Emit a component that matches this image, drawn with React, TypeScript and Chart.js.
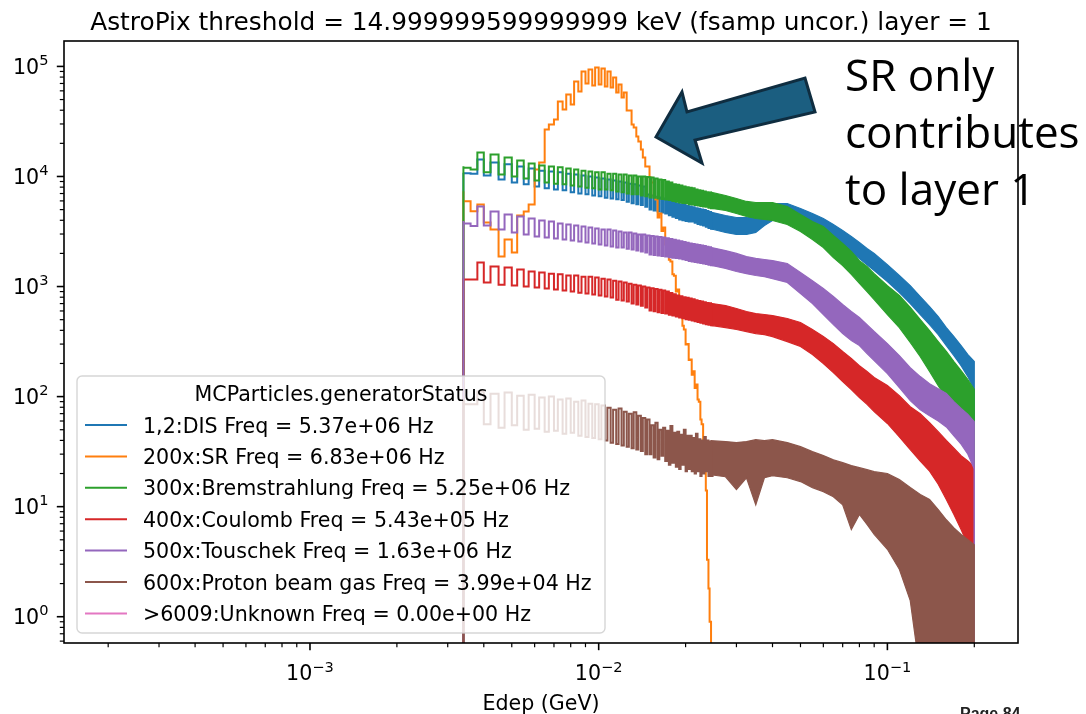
import React, { useEffect, useRef } from "react";
import { Chart, registerables } from "chart.js";

Chart.register(...registerables);

// ---------- axes ----------
const X_MIN = 1.406e-4;
const X_MAX = 0.2834;
const Y_MIN = 0.577;
const Y_MAX = 1.702e5;
const FLOOR = 0.01; // "zero" for the step outline (below the axis)

const X_MAJOR = [0.001, 0.01, 0.1];
const X_EXP = ["\u22123", "\u22122", "\u22121"];
const Y_MAJOR = [1, 10, 100, 1000, 10000, 100000];
const Y_EXP = ["0", "1", "2", "3", "4", "5"];

const TITLE = "AstroPix threshold = 14.999999599999999 keV (fsamp uncor.) layer = 1";
const X_LABEL = "Edep (GeV)";
const LEGEND_TITLE = "MCParticles.generatorStatus";
const LABELS = [
  "1,2:DIS Freq = 5.37e+06 Hz",
  "200x:SR Freq = 6.83e+06 Hz",
  "300x:Bremstrahlung Freq = 5.25e+06 Hz",
  "400x:Coulomb Freq = 5.43e+05 Hz",
  "500x:Touschek Freq = 1.63e+06 Hz",
  "600x:Proton beam gas Freq = 3.99e+04 Hz",
  ">6009:Unknown Freq = 0.00e+00 Hz",
];
const COLORS = ["#1f77b4", "#ff7f0e", "#2ca02c", "#d62728", "#9467bd", "#8c564b", "#e377c2"];

// ---------- bin edges (GeV) ----------
const BASE_EDGES = [0.0034, 0.0036, 0.0038];
const TOOTH_START = [
  0.004, 0.0045, 0.005, 0.0055, 0.006, 0.0065, 0.007, 0.0075, 0.008, 0.0085, 0.009, 0.0095,
  0.01, 0.0105, 0.011, 0.0115, 0.012, 0.0125, 0.013, 0.0135, 0.014, 0.0145,
  0.015, 0.0155, 0.016, 0.0165, 0.017, 0.0175, 0.018, 0.0185, 0.019, 0.0195,
  0.02, 0.0205, 0.021, 0.0215, 0.022, 0.0225, 0.023, 0.0235, 0.024, 0.0245,
];
const TOOTH_END = [
  0.00422, 0.00472, 0.00522, 0.00572, 0.00622, 0.00672, 0.00722, 0.00772, 0.00822, 0.00872, 0.00922, 0.00972,
  0.01022, 0.01072, 0.01122, 0.01172, 0.01222, 0.01272, 0.01322, 0.01372, 0.01422, 0.01472,
  0.01522, 0.01572, 0.01622, 0.01672, 0.01722, 0.01772, 0.01822, 0.01872, 0.01922, 0.01972,
  0.02022, 0.02072, 0.02122, 0.02172, 0.02222, 0.02272, 0.02322, 0.02372, 0.02422, 0.02472,
];
const COMB_END = 0.025;
const BAND_X = [0.0244, 0.0275, 0.03, 0.0325, 0.035, 0.0375, 0.04, 0.045, 0.05, 0.055, 0.06, 0.065, 0.07, 0.075, 0.08, 0.085, 0.09, 0.1, 0.11, 0.12, 0.13, 0.14, 0.15, 0.16, 0.17, 0.18, 0.19, 0.2];

// ---------- 1,2: DIS ----------
const DIS_BASE = [10800, 10700, 10600];
const DIS_HI = [
  14300, 13400, 12900, 12300, 11800, 11300, 11100, 10900, 10600, 10400, 10200, 10000, 9800, 9600, 9400, 9200, 9000, 8800, 8600, 8500, 8300, 8100,
  6860, 6700, 6550, 6450, 6310, 6150, 6000, 5850, 5680, 5600, 5500, 5400, 5340, 5250, 5150, 5100, 5010, 4950, 4850, 4750,
];
const DIS_LO = [
  10200, 9400, 8800, 8500, 8100, 7800, 7600, 7500, 7200, 7000, 6900, 6700, 6600, 6400, 6300, 6200, 6100, 5900, 5700, 5600, 5500, 5300,
  5010, 4900, 4800, 4700, 4610, 4450, 4300, 4200, 4070, 4000, 3950, 3900, 3900, 3800, 3700, 3650, 3580, 3500, 3400, 3350,
];
const DIS_UP = [4750, 4420, 4240, 4240, 4510, 5120, 5680, 5680, 5120, 4610, 4150, 3660, 3230, 2850, 2510, 2220, 2000, 1580, 1260, 1020, 811, 658, 534, 424, 351, 291, 241, 208];
const DIS_DN = [3350, 3100, 2970, 2970, 3100, 3580, 3980, 4070, 3900, 3440, 3100, 2620, 2310, 2040, 1800, 1580, 1400, 1110, 882, 701, 557, 451, 366, 291, 236, 191, 152, 116];

// ---------- 200x: SR ----------
const SR_BASE = [7350, 5960, 4840];
const SR_HI = [
  5570, 3300, 2680, 4420, 5570, 13400, 29700, 48100, 55700, 73100, 90100, 93900, 97900, 95900, 90100, 79400, 68600, 58000, 39800, 27900, 20800, 14900,
  12300, 8800, 6180, 4600, 3440, 2400, 1690, 1250, 939, 620, 407, 300, 217, 170, 129, 90, 56, 22, 3.3, 0.9,
];
const SR_LO = [
  3820, 1870, 2040, 4810, 11600, 26700, 33000, 40700, 45100, 59300, 70000, 67200, 68600, 65800, 64400, 58000, 52300, 39800, 29700, 23100, 17600, 12300,
  9790, 6500, 4240, 3200, 2410, 1750, 1290, 900, 618, 440, 297, 215, 158, 120, 94, 62, 37, 14, 1.8, 0.3,
];

// ---------- 300x: Bremsstrahlung ----------
const BREM_BASE = [12400, 12000, 11600];
const BREM_HI = [
  16500, 15800, 14900, 14000, 13100, 12600, 12300, 12100, 11800, 11600, 11300, 11100, 10900, 10900, 10600, 10600, 10400, 10400, 10200, 10200, 10000, 10000,
  9900, 9800, 9600, 9400, 9300, 9000, 8800, 8500, 8400, 8300, 8100, 8000, 7900, 7800, 7600, 7500, 7400, 7300, 7200, 7150,
];
const BREM_LO = [
  10900, 10400, 10000, 9600, 9200, 8800, 8600, 8500, 8300, 8100, 7900, 7800, 7600, 7600, 7500, 7300, 7200, 7000, 6900, 6900, 6700, 6600,
  6450, 6400, 6300, 6250, 6180, 6100, 6000, 5900, 5800, 5750, 5700, 5600, 5570, 5500, 5450, 5400, 5340, 5300, 5200, 5150,
];
const BREM_UP = [7200, 6720, 6310, 5930, 5800, 5800, 5800, 5340, 4510, 3900, 3510, 2910, 2460, 2080, 1720, 1520, 1310, 1020, 828, 645, 501, 398, 316, 257, 208, 172, 143, 116];
const BREM_DN = [5150, 4910, 4610, 4330, 4150, 4070, 3980, 3660, 3160, 2680, 2260, 1830, 1550, 1290, 1070, 901, 762, 557, 424, 310, 231, 169, 126, 98, 79, 64, 52, 37];

// ---------- 400x: Coulomb ----------
const COUL_BASE = [1160, 1160, 1160];
const COUL_HI = [
  1650, 1520, 1490, 1430, 1370, 1340, 1310, 1290, 1260, 1260, 1230, 1230, 1210, 1180, 1160, 1130, 1110, 1090, 1060, 1040, 1020, 1000,
  980, 965, 950, 935, 920, 900, 875, 850, 830, 815, 800, 790, 780, 765, 750, 740, 730, 720, 710, 705,
];
const COUL_LO = [
  1090, 1040, 1020, 1000, 980, 960, 940, 920, 900, 880, 865, 845, 830, 810, 795, 760, 745, 730, 700, 685, 670, 645,
  605, 595, 585, 575, 568, 555, 545, 535, 523, 515, 505, 498, 491, 483, 475, 468, 461, 455, 449, 444,
];
const COUL_UP = [705, 672, 631, 593, 568, 557, 545, 512, 471, 407, 351, 303, 257, 222, 191, 169, 149, 126, 102, 81, 70, 58, 48, 40, 34, 29, 26, 23];
const COUL_DN = [444, 424, 407, 390, 374, 366, 351, 316, 285, 241, 200, 165, 137, 116, 98, 85, 73, 57, 43, 33, 26, 21, 16, 11.6, 8.5, 6.2, 4.5, 3.3];

// ---------- 500x: Touschek ----------
const TOUS_BASE = [3930, 3740, 3550];
const TOUS_HI = [
  5340, 4810, 4520, 4330, 4150, 3980, 3900, 3730, 3660, 3580, 3510, 3430, 3360, 3300, 3300, 3230, 3160, 3090, 3090, 3030, 2970, 2970,
  2910, 2880, 2850, 2820, 2790, 2750, 2700, 2660, 2620, 2580, 2540, 2500, 2460, 2440, 2410, 2380, 2360, 2330, 2300, 2270,
];
const TOUS_LO = [
  3580, 3300, 3090, 2970, 2850, 2790, 2730, 2670, 2620, 2560, 2510, 2460, 2410, 2360, 2310, 2260, 2260, 2210, 2170, 2120, 2080, 2040,
  1950, 1930, 1910, 1890, 1870, 1850, 1830, 1815, 1800, 1770, 1740, 1710, 1690, 1670, 1650, 1635, 1620, 1600, 1580, 1560,
];
const TOUS_UP = [2270, 2120, 2000, 1870, 1800, 1760, 1720, 1620, 1340, 1130, 959, 811, 686, 593, 523, 451, 390, 303, 236, 183, 152, 131, 118, 107, 90, 78, 69, 59];
const TOUS_DN = [1560, 1460, 1370, 1310, 1260, 1230, 1180, 1090, 864, 701, 557, 451, 374, 323, 291, 246, 212, 162, 121, 92, 76, 67, 60, 53, 44, 37, 30, 22];

// ---------- 600x: Proton beam gas ----------
const PBG_BASE = [94, 85, 85];
const PBG_HI = [
  111, 106, 109, 102, 104, 98, 100, 94, 96, 90, 92, 86, 85, 83, 79, 76, 78, 73, 70, 72, 67, 64,
  62, 55, 58, 50, 52, 49, 54, 47, 48, 45, 50, 44, 44, 42, 46, 41, 40, 43, 40, 39,
];
const PBG_LO = [
  56, 52, 55, 50, 51, 48, 49, 46, 47, 44, 43, 42, 41, 40, 38, 37, 36, 35, 34, 33, 32, 30,
  30, 28, 27, 29, 26, 24, 25, 23, 22, 24, 21, 22, 21, 20, 21, 19, 20, 21, 19, 19,
];
const PBG_UP = [39.8, 39.0, 38.2, 39.0, 40.6, 39.8, 40.6, 38.2, 35.1, 31.6, 29.1, 26.7, 25.1, 23.6, 22.6, 21.7, 20.8, 20.0, 17.6, 14.9, 12.9, 11.6, 9.4, 7.6, 6.4, 5.6, 5.0, 4.5];
const PBG_DN = [19.5, 18.7, 14.3, 18.3, 10.4, 18.3, 19.1, 18.3, 16.9, 14.9, 13.7, 12.3, 10.4, 6.2, 8.5, 6.9, 5.6, 4.1, 2.7, 1.4, 0.3, 0.3, 0.3, 0.3, 0.3, 0.3, 0.3, 0.3];

type Pt = { x: number; y: number };

function combPoints(base: number[], hi: number[], lo: number[]): Pt[] {
  const pts: Pt[] = [{ x: BASE_EDGES[0], y: FLOOR }];
  BASE_EDGES.forEach((e, i) => pts.push({ x: e, y: base[i] }));
  TOOTH_START.forEach((s, k) => {
    pts.push({ x: s, y: hi[k] });
    pts.push({ x: TOOTH_END[k], y: lo[k] });
  });
  pts.push({ x: COMB_END, y: lo[lo.length - 1] });
  return pts;
}

function edgePoints(xs: number[], ys: number[]): Pt[] {
  const pts: Pt[] = xs.map((x, i) => ({ x, y: ys[i] }));
  pts.push({ x: xs[xs.length - 1], y: FLOOR });
  return pts;
}

const SERIES = [
  { base: DIS_BASE, hi: DIS_HI, lo: DIS_LO, up: DIS_UP, dn: DIS_DN },
  { base: SR_BASE, hi: SR_HI, lo: SR_LO, up: null, dn: null },
  { base: BREM_BASE, hi: BREM_HI, lo: BREM_LO, up: BREM_UP, dn: BREM_DN },
  { base: COUL_BASE, hi: COUL_HI, lo: COUL_LO, up: COUL_UP, dn: COUL_DN },
  { base: TOUS_BASE, hi: TOUS_HI, lo: TOUS_LO, up: TOUS_UP, dn: TOUS_DN },
  { base: PBG_BASE, hi: PBG_HI, lo: PBG_LO, up: PBG_UP, dn: PBG_DN },
];

function buildDatasets() {
  const ds: any[] = [];
  SERIES.forEach((s, i) => {
    const color = COLORS[i];
    const order = 100 - i;
    ds.push({
      label: LABELS[i],
      data: combPoints(s.base, s.hi, s.lo),
      borderColor: color,
      backgroundColor: color,
      borderWidth: 2,
      stepped: "after",
      fill: false,
      pointRadius: 0,
      order,
      clip: 0,
    });
    if (s.up && s.dn) {
      ds.push({
        label: LABELS[i] + " (upper)",
        data: edgePoints(BAND_X, s.up),
        borderColor: color,
        backgroundColor: color,
        borderWidth: 1.2,
        fill: false,
        pointRadius: 0,
        order,
        clip: 0,
      });
      ds.push({
        label: LABELS[i] + " (lower)",
        data: edgePoints(BAND_X, s.dn),
        borderColor: color,
        backgroundColor: color,
        borderWidth: 1.2,
        fill: "-1",
        pointRadius: 0,
        order,
        clip: 0,
      });
    }
  });
  ds.push({ label: LABELS[6], data: [], borderColor: COLORS[6], borderWidth: 2, pointRadius: 0, order: 90 });
  return ds;
}

const FONT_MED = '20.6px "DejaVu Sans"';
const FONT_SUP = '14.6px "DejaVu Sans"';
const FONT_TITLE = '24.8px "DejaVu Sans"';

const mplPlugin = {
  id: "mplLook",
  afterDatasetsDraw(chart: any) {
    const ctx: CanvasRenderingContext2D = chart.ctx;
    ctx.save();
    const x0 = 77, y0 = 376, x1 = 605, y1 = 633, r = 5;
    ctx.beginPath();
    ctx.moveTo(x0 + r, y0);
    ctx.arcTo(x1, y0, x1, y1, r);
    ctx.arcTo(x1, y1, x0, y1, r);
    ctx.arcTo(x0, y1, x0, y0, r);
    ctx.arcTo(x0, y0, x1, y0, r);
    ctx.closePath();
    ctx.fillStyle = "rgba(255,255,255,0.8)";
    ctx.fill();
    ctx.strokeStyle = "rgba(204,204,204,0.8)";
    ctx.lineWidth = 1.4;
    ctx.stroke();
    ctx.font = FONT_MED;
    ctx.fillStyle = "#000";
    ctx.textBaseline = "alphabetic";
    ctx.textAlign = "center";
    ctx.fillText(LEGEND_TITLE, (x0 + x1) / 2, 400.7);
    ctx.textAlign = "left";
    LABELS.forEach((lab, i) => {
      const cy = 425 + i * 31.4;
      ctx.strokeStyle = COLORS[i];
      ctx.lineWidth = 2;
      ctx.beginPath();
      ctx.moveTo(85, cy);
      ctx.lineTo(127, cy);
      ctx.stroke();
      ctx.fillStyle = "#000";
      ctx.fillText(lab, 143, cy + 7.5);
    });
    ctx.restore();
  },
  afterDraw(chart: any) {
    const ctx: CanvasRenderingContext2D = chart.ctx;
    const a = chart.chartArea;
    const xs = chart.scales.x;
    const ys = chart.scales.y;
    ctx.save();
    ctx.strokeStyle = "#000";
    ctx.fillStyle = "#000";
    ctx.lineWidth = 1.6;
    ctx.strokeRect(a.left, a.top, a.right - a.left, a.bottom - a.top);

    const xTick = (v: number, len: number, w: number) => {
      const px = xs.getPixelForValue(v);
      if (px < a.left - 0.5 || px > a.right + 0.5) return;
      ctx.lineWidth = w;
      ctx.beginPath();
      ctx.moveTo(px, a.bottom);
      ctx.lineTo(px, a.bottom + len);
      ctx.stroke();
    };
    const yTick = (v: number, len: number, w: number) => {
      const py = ys.getPixelForValue(v);
      if (py < a.top - 0.5 || py > a.bottom + 0.5) return;
      ctx.lineWidth = w;
      ctx.beginPath();
      ctx.moveTo(a.left, py);
      ctx.lineTo(a.left - len, py);
      ctx.stroke();
    };
    for (let e = -4; e <= -1; e++) {
      for (let m = 2; m <= 9; m++) xTick(m * Math.pow(10, e), 4.2, 1.2);
    }
    X_MAJOR.forEach((v) => xTick(v, 7.2, 1.6));
    for (let e = -1; e <= 5; e++) {
      for (let m = 2; m <= 9; m++) yTick(m * Math.pow(10, e), 4.2, 1.2);
    }
    Y_MAJOR.forEach((v) => yTick(v, 7.2, 1.6));

    ctx.textBaseline = "alphabetic";
    ctx.textAlign = "left";
    X_MAJOR.forEach((v, i) => {
      const px = xs.getPixelForValue(v);
      ctx.font = FONT_MED;
      const wb = ctx.measureText("10").width;
      ctx.font = FONT_SUP;
      const we = ctx.measureText(X_EXP[i]).width;
      const start = px - (wb + we) / 2;
      ctx.font = FONT_MED;
      ctx.fillText("10", start, 680);
      ctx.font = FONT_SUP;
      ctx.fillText(X_EXP[i], start + wb, 680 - 8.5);
    });
    Y_MAJOR.forEach((v, i) => {
      const py = ys.getPixelForValue(v);
      ctx.font = FONT_MED;
      const wb = ctx.measureText("10").width;
      ctx.font = FONT_SUP;
      const we = ctx.measureText(Y_EXP[i]).width;
      const start = 48.5 - wb - we;
      ctx.font = FONT_MED;
      ctx.fillText("10", start, py + 7.5);
      ctx.font = FONT_SUP;
      ctx.fillText(Y_EXP[i], start + wb, py + 7.5 - 9);
    });

    const cx = (a.left + a.right) / 2;
    ctx.textAlign = "center";
    ctx.font = FONT_MED;
    ctx.fillText(X_LABEL, cx, 710);
    ctx.font = FONT_TITLE;
    ctx.fillText(TITLE, cx, 30);
    ctx.restore();
  },
};

export default function App() {
  const ref = useRef<HTMLCanvasElement>(null);
  useEffect(() => {
    if (!ref.current) return;
    const chart = new Chart(ref.current, {
      type: "line",
      data: { datasets: buildDatasets() },
      options: {
        animation: false,
        responsive: false,
        events: [],
        layout: { padding: { left: 0, right: 68, top: 41, bottom: 0 } },
        plugins: {
          legend: { display: false },
          title: { display: false },
          tooltip: { enabled: false },
        },
        elements: { point: { radius: 0 }, line: { tension: 0 } },
        scales: {
          x: {
            type: "logarithmic",
            min: X_MIN,
            max: X_MAX,
            ticks: { display: false },
            grid: { display: false },
            border: { display: false },
            afterFit: (s: any) => {
              s.height = 71;
            },
          },
          y: {
            type: "logarithmic",
            min: Y_MIN,
            max: Y_MAX,
            ticks: { display: false },
            grid: { display: false },
            border: { display: false },
            afterFit: (s: any) => {
              s.width = 64;
            },
          },
        },
      } as any,
      plugins: [mplPlugin],
    });
    return () => chart.destroy();
  }, []);

  return (
    <div style={{ position: "fixed", left: 0, top: 0, width: 1086, height: 714, overflow: "hidden", background: "#fff" }}>
      <canvas ref={ref} width={1086} height={714} style={{ position: "absolute", left: 0, top: 0 }} />
      <svg width={1086} height={714} style={{ position: "absolute", left: 0, top: 0, pointerEvents: "none" }}>
        <polygon
          points="656,137 682,92 687,112 805,78 815,112 695,140 702,163"
          fill="#1b5e80"
          stroke="#0f2d40"
          strokeWidth={3}
          strokeLinejoin="miter"
        />
      </svg>
      <div
        style={{
          position: "absolute",
          left: 845,
          top: 46,
          fontFamily: '"Open Sans", sans-serif',
          fontSize: 44,
          lineHeight: "57px",
          color: "#000",
          whiteSpace: "nowrap",
        }}
      >
        SR only
        <br />
        contributes
        <br />
        to layer 1
      </div>
      <div
        style={{
          position: "absolute",
          left: 960,
          top: 706,
          fontFamily: '"Liberation Sans", sans-serif',
          fontWeight: "bold",
          fontSize: 16,
          lineHeight: "16px",
          color: "#222",
          whiteSpace: "nowrap",
        }}
      >
        Page 84
      </div>
    </div>
  );
}
